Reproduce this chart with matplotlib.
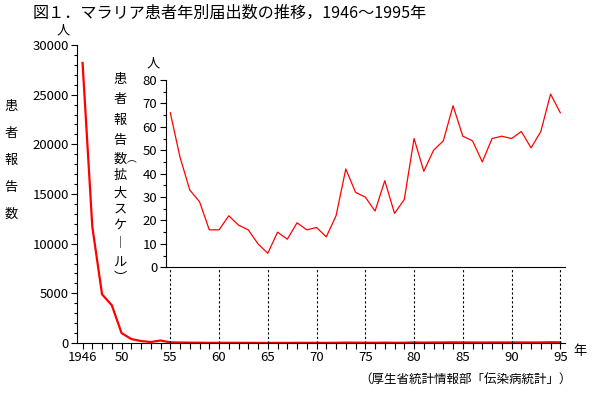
#! -*- coding: utf-8 -*-
import matplotlib
matplotlib.use('Agg')
import matplotlib.pyplot as plt
from matplotlib.ticker import MultipleLocator, FixedLocator

plt.rcParams['font.family'] = ['Noto Sans CJK JP', 'DejaVu Sans']

# reported malaria cases, 1946-1954 (main scale)
early_years = list(range(1946, 1955))
early_cases = [28200, 11700, 4900, 3800, 1000, 400, 200, 100, 250]

# 1955-1995 (enlarged scale)
late_years = list(range(1955, 1996))
late_cases = [66, 47, 33, 28, 16, 16, 22, 18, 16, 10,
              6, 15, 12, 19, 16, 17, 13, 22, 42, 32,
              30, 24, 37, 23, 29, 55, 41, 50, 54, 69,
              56, 54, 45, 55, 56, 55, 58, 51, 58, 74,
              66]

xtick_years = [1946, 1950, 1955, 1960, 1965, 1970, 1975, 1980, 1985, 1990, 1995]
xtick_labels = ['1946', '50', '55', '60', '65', '70', '75', '80', '85', '90', '95']
guide_years = [1955, 1960, 1965, 1970, 1975, 1980, 1985, 1990, 1995]

W, H = 593, 393


def px(x, y):
    return x / W, 1 - y / H


fig = plt.figure(figsize=(W / 100, H / 100), dpi=100)

# main axes
ax = fig.add_axes([77 / W, 1 - 343 / H, (565 - 77) / W, (343 - 45) / H])
ax.plot(early_years + late_years, early_cases + late_cases, color='red', lw=1.6)
ax.set_xlim(1945.43, 1995.48)
ax.set_ylim(0, 30000)
ax.spines['top'].set_visible(False)
ax.spines['right'].set_visible(False)
ax.set_xticks(xtick_years)
ax.set_xticklabels(xtick_labels)
ax.xaxis.set_minor_locator(FixedLocator(list(range(1946, 1996))))
ax.yaxis.set_major_locator(MultipleLocator(5000))
ax.yaxis.set_minor_locator(MultipleLocator(1000))
ax.tick_params(axis='both', which='major', length=4, width=0.8, labelsize=9.5, pad=2)
ax.tick_params(axis='both', which='minor', length=4, width=0.8)
ax.tick_params(axis='y', which='minor', length=2.5)

# dotted guides from inset bottom down to the main axis
inset_bottom = (343 - 267.3) / (343 - 45)
for yr in guide_years:
    ax.axvline(yr, ymin=0, ymax=inset_bottom, color='black', lw=0.8, ls=(0, (2, 2)))

# inset axes (enlarged scale)
ins = fig.add_axes([165.7 / W, 1 - 267.3 / H, (565 - 165.7) / W, (267.3 - 80) / H])
ins.patch.set_alpha(0)
ins.plot(late_years, late_cases, color='red', lw=0.9)
ins.set_xlim(1954.53, 1995.48)
ins.set_ylim(0, 80)
ins.spines['top'].set_visible(False)
ins.spines['right'].set_visible(False)
ins.set_xticks([])
ins.yaxis.set_major_locator(MultipleLocator(10))
ins.yaxis.set_minor_locator(MultipleLocator(5))
ins.tick_params(axis='y', which='major', length=4, width=0.8, labelsize=9.5, pad=2)
ins.tick_params(axis='y', which='minor', length=2.5, width=0.8)

# texts
fig.text(*px(33, 13), '図１．マラリア患者年別届出数の推移，1946～1995年',
         fontsize=11.6, ha='left', va='center')
fig.text(*px(63, 31), '人', fontsize=9.5, ha='center', va='center')
fig.text(*px(153, 64), '人', fontsize=9.5, ha='center', va='center')
fig.text(*px(580, 352), '年', fontsize=9.5, ha='center', va='center')
fig.text(*px(466, 380), '（厚生省統計情報部「伝染病統計」）', fontsize=9,
         ha='center', va='center')

for ch, y in zip('患者報告数', [106, 133, 160, 187, 214]):
    fig.text(*px(11, y), ch, fontsize=9.5, ha='center', va='center')

inset_label = [('患', 120, 80), ('者', 120, 100), ('報', 120, 120), ('告', 120, 140),
               ('数', 120, 159), ('︵', 132, 159), ('拡', 120, 176), ('大', 120, 193),
               ('ス', 120, 209), ('ケ', 120, 225), ('︱', 120, 243), ('ル', 120, 263),
               ('︶', 120, 278)]
for ch, x, y in inset_label:
    fs = 7 if ch == '︵' else 9.5
    fig.text(*px(x, y), ch, fontsize=fs, ha='center', va='center')

fig.savefig('out.png', dpi=100)
